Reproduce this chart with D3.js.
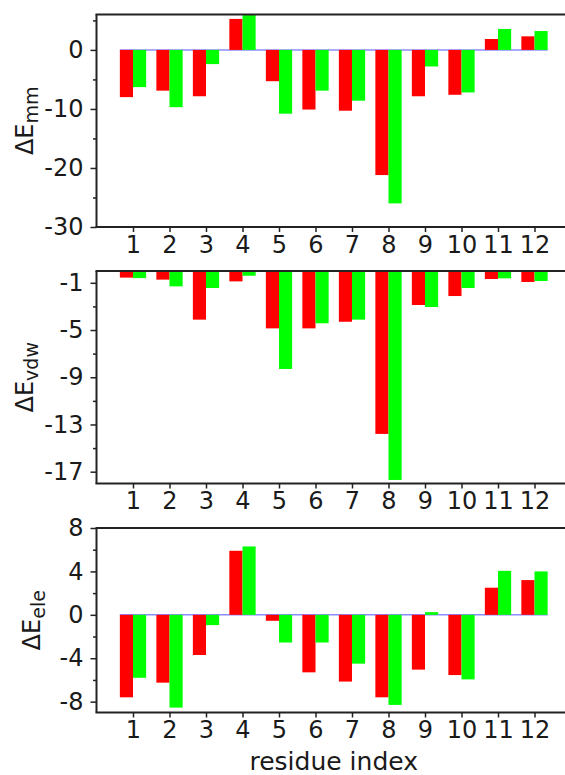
<!DOCTYPE html>
<html>
<head>
<meta charset="utf-8">
<script src="https://cdn.jsdelivr.net/npm/d3@7"></script>
<style>
  body { margin: 0; background: #fff; overflow: hidden; }
  text { font-family: "DejaVu Sans", sans-serif; fill: #1a1a1a; }
</style>
</head>
<body>
<div id="chart"></div>
<script>
// residue indices (x tick labels)
var residues = [1, 2, 3, 4, 5, 6, 7, 8, 9, 10, 11, 12];

// ΔE_mm
var mmRed   = [-8.0, -6.9, -7.85, 5.25, -5.3, -10.1, -10.3, -21.2, -7.85, -7.6, 1.85, 2.3];
var mmGreen = [-6.3, -9.7, -2.4, 5.9, -10.8, -6.9, -8.6, -26.0, -2.8, -7.2, 3.55, 3.2];
var mmTicks = [-30, -20, -10, 0];
var mmMinor = [-25, -15, -5, 5];

// ΔE_vdw
var vdwRed   = [-0.56, -0.73, -4.12, -0.88, -4.86, -4.86, -4.3, -13.8, -2.88, -2.12, -0.68, -0.93];
var vdwGreen = [-0.6, -1.3, -1.44, -0.4, -8.3, -4.43, -4.12, -17.7, -3.05, -1.44, -0.62, -0.85];
var vdwTicks = [-17, -13, -9, -5, -1];
var vdwMinor = [-15, -11, -7, -3];

// ΔE_ele
var eleRed   = [-7.6, -6.25, -3.7, 5.9, -0.55, -5.3, -6.15, -7.6, -5.05, -5.55, 2.5, 3.2];
var eleGreen = [-5.8, -8.55, -0.95, 6.3, -2.55, -2.55, -4.5, -8.3, 0.25, -5.95, 4.05, 4.0];
var eleTicks = [-8, -4, 0, 4, 8];
var eleMinor = [-6, -2, 2, 6];

var W = 565, H = 775;
var barW = 0.36;

var svg = d3.select("#chart").append("svg")
  .attr("width", W)
  .attr("height", H);

// right limit falls just outside the picture, like the original
var x = d3.scaleLinear().domain([0, 13]).range([96.5, 571]);

var panels = [
  {red: mmRed, green: mmGreen, ticks: mmTicks, minor: mmMinor, dom: [-30, 6], top: 14.5, bottom: 227, sub: "mm", labX: 33},
  {red: vdwRed, green: vdwGreen, ticks: vdwTicks, minor: vdwMinor, dom: [-18, 0], top: 271, bottom: 483.5, sub: "vdw", labX: 33},
  {red: eleRed, green: eleGreen, ticks: eleTicks, minor: eleMinor, dom: [-9, 8], top: 528, bottom: 712.5, sub: "ele", labX: 40}
];

panels.forEach(function(p) {
  var y = d3.scaleLinear().domain(p.dom).range([p.bottom, p.top]);
  var g = svg.append("g");

  // zero line
  g.append("line")
    .attr("x1", x(residues[0] - barW))
    .attr("x2", x(residues[residues.length - 1] + barW))
    .attr("y1", y(0)).attr("y2", y(0))
    .attr("stroke", "#8c8cff")
    .attr("stroke-width", 1.5);

  g.selectAll(".red")
    .data(p.red)
    .enter()
    .append("rect")
    .attr("x", function(d, i) { return x(residues[i] - barW); })
    .attr("width", function(d, i) { return x(residues[i]) - x(residues[i] - barW); })
    .attr("y", function(d) { return y(Math.max(0, d)); })
    .attr("height", function(d) { return Math.abs(y(d) - y(0)); })
    .attr("fill", "#ff0000");

  g.selectAll(".green")
    .data(p.green)
    .enter()
    .append("rect")
    .attr("x", function(d, i) { return x(residues[i]); })
    .attr("width", function(d, i) { return x(residues[i] + barW) - x(residues[i]); })
    .attr("y", function(d) { return y(Math.max(0, d)); })
    .attr("height", function(d) { return Math.abs(y(d) - y(0)); })
    .attr("fill", "#00ff00");

  // spines: left, top, bottom (right one is off the picture)
  [[x(0), p.top, x(0), p.bottom], [x(0) - 1, p.top, x(13), p.top], [x(0) - 1, p.bottom, x(13), p.bottom]]
    .forEach(function(s) {
      g.append("line")
        .attr("x1", s[0]).attr("y1", s[1]).attr("x2", s[2]).attr("y2", s[3])
        .attr("stroke", "#222")
        .attr("stroke-width", 2);
    });

  // y axis
  g.append("g")
    .attr("transform", "translate(" + x(0) + ",0)")
    .call(d3.axisLeft(y).tickValues(p.ticks).tickSize(6).tickPadding(7)
      .tickFormat(function(d) { return String(d); }));
  g.append("g")
    .attr("transform", "translate(" + x(0) + ",0)")
    .call(d3.axisLeft(y).tickValues(p.minor).tickSize(3.5).tickFormat(""));

  // x axis
  g.append("g")
    .attr("transform", "translate(0," + p.bottom + ")")
    .call(d3.axisBottom(x).tickValues(residues).tickSize(5).tickPadding(3.5)
      .tickFormat(d3.format("d")));

  g.selectAll(".domain").remove();
  g.selectAll(".tick line").attr("stroke", "#222").attr("stroke-width", 1.5);
  g.selectAll(".tick text")
    .attr("font-family", "DejaVu Sans")
    .attr("font-size", 24)
    .attr("fill", "#1a1a1a");

  // y label
  var cy = (p.top + p.bottom) / 2;
  var lab = svg.append("text")
    .attr("transform", "translate(" + p.labX + "," + cy + ") rotate(-90)")
    .attr("text-anchor", "middle")
    .attr("font-size", 24);
  lab.append("tspan").text("ΔE");
  lab.append("tspan").attr("font-size", 19).attr("dy", 5).text(p.sub);
});

svg.append("text")
  .attr("x", (x(0) + x(13)) / 2)
  .attr("y", 770)
  .attr("text-anchor", "middle")
  .attr("font-size", 25)
  .text("residue index");
</script>
</body>
</html>
